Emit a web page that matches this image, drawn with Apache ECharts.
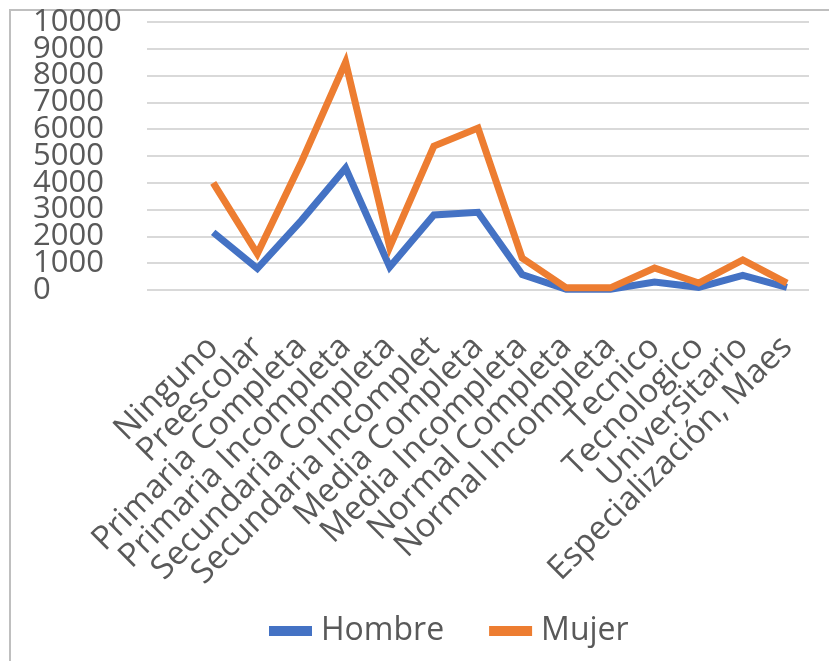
<!DOCTYPE html>
<html>
<head>
<meta charset="utf-8">
<script src="https://cdn.jsdelivr.net/npm/echarts@6/dist/echarts.min.js"></script>
<style>
html,body{margin:0;padding:0;background:#fff;}
#c{width:829px;height:661px;}
</style>
</head>
<body>
<div id="c"></div>
<script>
var categories = ['', 'Ninguno', 'Preescolar', 'Primaria Completa', 'Primaria Incompleta', 'Secundaria Completa', 'Secundaria Incompleta', 'Media Completa', 'Media Incompleta', 'Normal Completa', 'Normal Incompleta', 'Tecnico', 'Tecnologico', 'Universitario', 'Especialización, Maestría'];
var hombre = [null, 2150, 800, 2600, 4550, 860, 2800, 2900, 580, 30, 30, 300, 100, 550, 100];
var mujer  = [null, 4000, 1350, 4780, 8500, 1600, 5370, 6040, 1190, 80, 80, 820, 260, 1120, 260];
var yTicks = [0, 10000, 1000];

var chart = echarts.init(document.getElementById('c'));
var grey = '#595959';
var font = 'Open Sans';
var yLabelStyle = {
  align: 'left', margin: 114, verticalAlign: 'middle',
  color: grey, fontSize: 31, fontFamily: font, padding: [4, 0, 0, 0]
};
chart.setOption({
  backgroundColor: '#fff',
  animation: false,
  graphic: [{
    type: 'rect', shape: {x: 10, y: 10, width: 900, height: 800},
    style: {fill: 'none', stroke: '#BFBFBF', lineWidth: 2}, silent: true
  }],
  grid: {left: 147, right: 20, top: 22, bottom: 371, containLabel: false},
  legend: {
    data: ['Hombre', 'Mujer'],
    left: 264, top: 610,
    icon: 'rect', itemWidth: 43, itemHeight: 10, itemGap: 45,
    textStyle: {color: grey, fontSize: 32, fontFamily: font, padding: [0, 0, 0, 4]}
  },
  xAxis: {
    type: 'category', data: categories, boundaryGap: true,
    axisLine: {show: false}, axisTick: {show: false},
    axisLabel: {
      interval: 0, rotate: 45, margin: 52, color: grey, fontSize: 33, fontFamily: font,
      width: 338, overflow: 'truncate', ellipsis: ''
    }
  },
  yAxis: [{
    type: 'value', min: yTicks[0], max: yTicks[1], interval: yTicks[2], position: 'left',
    axisLine: {show: false}, axisTick: {show: false},
    splitLine: {lineStyle: {color: '#D9D9D9', width: 2}},
    axisLabel: Object.assign({}, yLabelStyle, {
      showMinLabel: false, showMaxLabel: false,
      formatter: function (v) { return String(v); }
    })
  }, {
    type: 'value', min: yTicks[0], max: yTicks[1], interval: yTicks[2], position: 'left', offset: 0,
    axisLine: {show: false}, axisTick: {show: false}, splitLine: {show: false},
    axisLabel: Object.assign({}, yLabelStyle, {
      showMinLabel: true, showMaxLabel: true,
      formatter: function (v) { return (v === yTicks[0] || v === yTicks[1]) ? String(v) : ''; }
    })
  }],
  series: [
    {name: 'Hombre', type: 'line', data: hombre, symbol: 'none', connectNulls: false, yAxisIndex: 0,
     lineStyle: {color: '#4472C4', width: 7, join: 'miter', cap: 'butt'}, itemStyle: {color: '#4472C4'}},
    {name: 'Mujer', type: 'line', data: mujer, symbol: 'none', connectNulls: false, yAxisIndex: 0,
     lineStyle: {color: '#ED7D31', width: 7, join: 'miter', cap: 'butt'}, itemStyle: {color: '#ED7D31'}}
  ]
});
</script>
</body>
</html>
